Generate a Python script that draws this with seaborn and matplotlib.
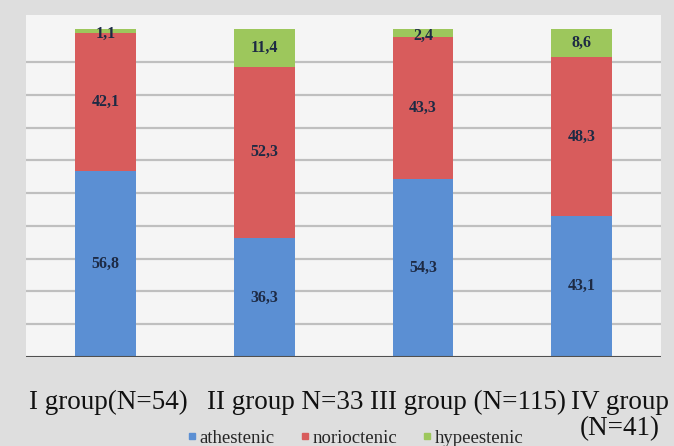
import numpy as np
import pandas as pd
import seaborn as sns
import matplotlib.pyplot as plt
import matplotlib.transforms as mtransforms
from matplotlib.lines import Line2D

# values (percent)
groups = ['I group(N=54)', 'II group N=33', 'III group (N=115)', 'IV group\n(N=41)']
athestenic = [56.8, 36.3, 54.3, 43.1]
norioctenic = [42.1, 52.3, 43.3, 48.3]
hypeestenic = [1.1, 11.4, 2.4, 8.6]
series_names = ['athestenic', 'norioctenic', 'hypeestenic']
colors = ['#5b8fd3', '#d85c5c', '#9dc75c']

sns.set_style('white')
plt.rcParams['font.family'] = ['Liberation Serif', 'DejaVu Serif']

df = pd.DataFrame({'group': groups, 'athestenic': athestenic,
                   'norioctenic': norioctenic, 'hypeestenic': hypeestenic})
df['c1'] = df['athestenic']
df['c2'] = df['c1'] + df['norioctenic']
df['c3'] = df['c2'] + df['hypeestenic']

fig = plt.figure(figsize=(6.74, 4.46), dpi=100, facecolor='#dedede')
ax = fig.add_axes([0.0386, 0.1996, 0.9424, 0.7664])
ax.set_facecolor('#f5f5f5')

# gridlines every 10
for yv in range(10, 100, 10):
    ax.axhline(yv, color='#bfbfbf', lw=1.6, zorder=0)
ax.axhline(0, color='#505050', lw=1.5, zorder=3)

# stacked bars: draw cumulative totals from the top down
for col, c in zip(['c3', 'c2', 'c1'], colors[::-1]):
    sns.barplot(data=df, x='group', y=col, color=c, width=0.384,
                saturation=1, ax=ax, zorder=2, edgecolor='none')

# value labels
for i in range(len(groups)):
    bottoms = [0, df['c1'][i], df['c2'][i]]
    vals = [athestenic[i], norioctenic[i], hypeestenic[i]]
    for b, v in zip(bottoms, vals):
        yy = b + v / 2
        if v < 3:
            yy = b + v / 2 - 0.8
        ax.text(i, yy, f'{v:.1f}'.replace('.', ','), ha='center', va='center',
                fontsize=11.5, fontweight='bold', color='#1d2a44', zorder=4)

ax.set_xlim(-0.5, 3.5)
ax.set_ylim(0, 104.3)
ax.set_yticks([])
ax.set_xlabel('')
ax.set_ylabel('')
for s in ax.spines.values():
    s.set_visible(False)

ax.tick_params(axis='x', length=0, pad=24)
ax.set_xticks(range(len(groups)))
ax.set_xticklabels(groups, fontsize=19.5, color='#111111')
shifts = [3, 21, 45, 38]
for lab, dx in zip(ax.get_xticklabels(), shifts):
    lab.set_transform(lab.get_transform() +
                      mtransforms.ScaledTranslation(dx / 100, 0, fig.dpi_scale_trans))
    lab.set_multialignment('center')
    lab.set_verticalalignment('top')
    lab.set_linespacing(1.05)

handles = [Line2D([], [], marker='s', linestyle='none', markersize=4,
                  color=c) for c in colors]
fig.legend(handles, series_names, loc='center', bbox_to_anchor=(0.525, 0.018),
           ncol=3, frameon=False, fontsize=13.5, handletextpad=0.0,
           columnspacing=1.2, handlelength=0.8)

fig.savefig('out.png', dpi=100, facecolor=fig.get_facecolor())
